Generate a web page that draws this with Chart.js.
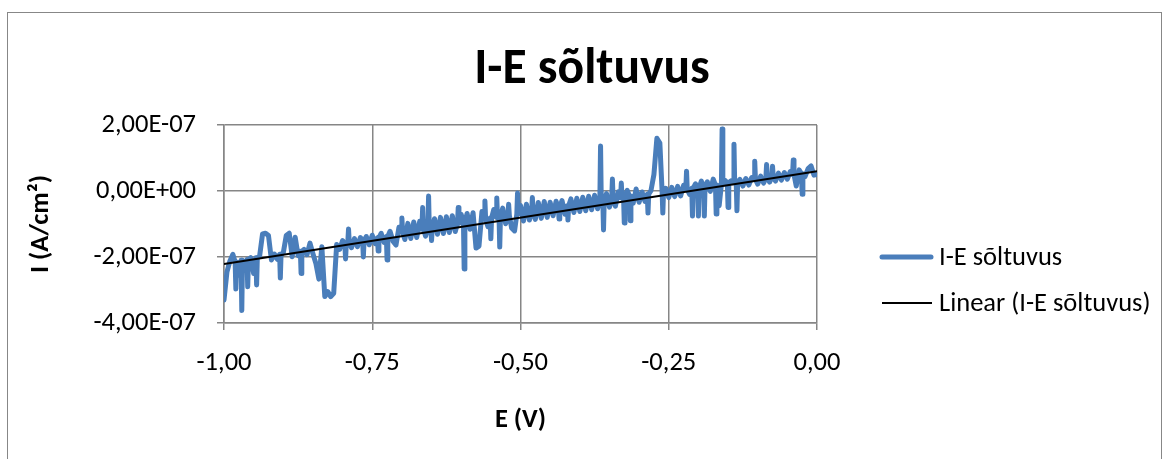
<!DOCTYPE html>
<html><head><meta charset="utf-8">
<script src="https://cdn.jsdelivr.net/npm/chart.js@4.4.1/dist/chart.umd.min.js"></script>
<style>
html,body{margin:0;padding:0;background:#fff;overflow:hidden}
#wrap{position:relative;width:1167px;height:459px}
#frame{position:absolute;left:7px;top:12px;width:1155px;height:480px;border:1.5px solid #878787;box-sizing:border-box}
canvas{position:absolute;left:0;top:0}
</style></head><body>
<div id="wrap"><div id="frame"></div><canvas id="c" width="1167" height="459"></canvas></div>
<script>
const chartTitle = 'I-E sõltuvus';
const seriesLabel = 'I-E sõltuvus';
const trendLabel = 'Linear (I-E sõltuvus)';
const xAxisTitle = 'E (V)';
const yAxisTitle = 'I (A/cm²)';

// potential E (V)
const potentialV = [
-1.000,-0.995,-0.990,-0.985,-0.9812,-0.980,-0.9788,-0.975,-0.9712,-0.970,-0.9688,-0.965,-0.9612,-0.960,-0.9588,-0.955,
-0.950,-0.9462,-0.945,-0.9438,-0.940,-0.935,-0.930,-0.925,-0.920,-0.915,-0.910,-0.9062,-0.905,-0.9038,
-0.900,-0.895,-0.890,-0.885,-0.880,-0.875,-0.8712,-0.870,-0.8688,-0.865,-0.860,-0.855,
-0.850,-0.845,-0.840,-0.835,-0.830,-0.825,-0.820,-0.815,-0.810,-0.805,
-0.800,-0.7962,-0.795,-0.7938,-0.7912,-0.790,-0.7888,-0.785,-0.780,-0.775,-0.770,-0.7662,-0.765,-0.7638,-0.760,-0.755,
-0.750,-0.745,-0.7412,-0.740,-0.7388,-0.735,-0.730,-0.7262,-0.725,-0.7238,-0.720,-0.715,-0.710,-0.705,
-0.7012,-0.700,-0.6988,-0.695,-0.690,-0.685,-0.680,-0.675,-0.670,-0.6662,-0.665,-0.6638,-0.660,-0.6562,-0.655,-0.6538,
-0.6512,-0.650,-0.6488,-0.645,-0.640,-0.635,-0.630,-0.625,-0.620,-0.615,-0.610,-0.6062,-0.605,-0.6038,
-0.600,-0.5962,-0.595,-0.5938,-0.590,-0.585,-0.580,-0.575,-0.570,-0.565,-0.5612,-0.560,-0.5588,-0.555,
-0.5512,-0.550,-0.5488,-0.545,-0.5412,-0.540,-0.5388,-0.5362,-0.535,-0.5338,-0.530,-0.525,-0.5212,-0.520,-0.5188,-0.515,-0.510,-0.5062,-0.505,-0.5038,
-0.500,-0.495,-0.490,-0.485,-0.4812,-0.480,-0.4788,-0.475,-0.470,-0.465,-0.460,-0.455,
-0.450,-0.445,-0.440,-0.4362,-0.435,-0.4338,-0.430,-0.425,-0.4212,-0.420,-0.4188,-0.415,-0.410,-0.405,
-0.400,-0.395,-0.390,-0.385,-0.380,-0.375,-0.370,-0.3662,-0.365,-0.3638,-0.3612,-0.360,-0.3588,-0.355,
-0.350,-0.3462,-0.345,-0.3438,-0.340,-0.335,-0.3312,-0.330,-0.3288,-0.3262,-0.325,-0.3238,-0.320,-0.3162,-0.315,-0.3138,-0.310,-0.305,
-0.300,-0.295,-0.290,-0.2862,-0.285,-0.2838,-0.280,-0.275,-0.270,-0.265,-0.2612,-0.260,-0.2588,-0.255,
-0.250,-0.245,-0.240,-0.235,-0.230,-0.225,-0.2212,-0.220,-0.2188,-0.215,-0.2112,-0.210,-0.2088,-0.205,
-0.2012,-0.200,-0.1988,-0.195,-0.1912,-0.190,-0.1888,-0.185,-0.180,-0.175,-0.1712,-0.170,-0.1688,-0.165,-0.1612,-0.160,-0.1588,-0.155,
-0.1512,-0.150,-0.1488,-0.145,-0.1412,-0.140,-0.1388,-0.1362,-0.135,-0.1338,-0.130,-0.125,-0.120,-0.115,-0.110,-0.1062,-0.105,-0.1038,
-0.100,-0.095,-0.090,-0.0862,-0.085,-0.0838,-0.080,-0.0762,-0.075,-0.0738,-0.070,-0.065,-0.060,-0.055,
-0.050,-0.045,-0.0412,-0.040,-0.0388,-0.035,-0.030,-0.0262,-0.025,-0.0238,-0.020,-0.015,-0.010,-0.005,0.000];

// current I in units of 1e-7 A/cm²
const currentE7 = [
-3.30,-2.45,-2.12,-1.92,-2.15,-2.97,-2.15,-2.55,-2.10,-3.62,-2.10,-2.35,-2.08,-2.90,-2.08,-2.02,
-2.50,-2.02,-2.85,-2.02,-1.98,-1.30,-1.28,-1.35,-2.09,-1.91,-2.07,-1.92,-2.64,-1.92,
-1.87,-1.35,-1.28,-1.99,-1.40,-1.96,-1.83,-2.50,-1.83,-1.77,-1.93,-1.58,
-1.90,-2.20,-2.67,-1.69,-3.20,-3.05,-3.20,-3.10,-1.62,-1.77,
-1.50,-1.62,-2.06,-1.62,-1.55,-1.15,-1.55,-1.72,-1.44,-1.69,-1.41,-1.50,-2.00,-1.50,-1.38,-1.63,
-1.34,-1.60,-1.42,-1.82,-1.42,-1.28,-1.56,-1.38,-2.09,-1.38,-1.22,-1.52,-1.64,-1.10,
-1.25,-0.82,-1.25,-1.47,-0.98,-1.44,-0.94,-1.41,-0.92,-1.15,-0.50,-1.15,-1.37,-1.12,-0.15,-1.12,
-1.10,-1.50,-1.10,-0.84,-1.31,-0.80,-1.29,-0.78,-1.26,-0.75,-1.23,-0.98,-0.50,-0.98,
-0.71,-0.95,-2.36,-0.95,-0.68,-1.16,-0.66,-1.73,-1.67,-0.62,-0.85,-0.30,-0.85,-1.08,
-0.82,-1.45,-0.82,-0.56,-0.80,-0.21,-0.80,-0.78,-1.70,-0.78,-0.52,-0.99,-0.74,-0.40,-0.74,-1.12,-1.21,-0.70,-0.06,-0.70,
-0.44,-0.91,-0.40,-0.88,-0.62,-0.20,-0.62,-0.86,-0.35,-0.83,-0.32,-0.80,
-0.34,-0.75,-0.31,-0.50,-0.85,-0.50,-0.29,-0.70,-0.45,-0.88,-0.45,-0.24,-0.65,-0.22,
-0.62,-0.19,-0.60,-0.16,-0.57,-0.13,-0.54,-0.30,1.36,-0.30,-0.28,-1.18,-0.28,-0.08,
-0.49,-0.25,0.36,-0.25,-0.46,-0.02,-0.20,0.24,-0.20,-0.18,-0.97,-0.18,0.02,-0.15,-0.90,-0.15,-0.37,0.06,
-0.34,-0.03,-0.32,-0.10,-0.67,-0.10,0.01,0.50,1.60,1.45,-0.02,-0.67,-0.02,0.08,
-0.20,0.11,-0.17,0.14,-0.15,0.17,0.05,0.60,0.05,-0.10,0.08,-0.76,0.08,0.22,
0.10,-0.76,0.10,0.30,0.12,-0.76,0.12,0.28,-0.01,0.36,0.18,-0.70,0.18,-0.45,0.20,1.88,0.20,0.32,
0.25,-0.50,0.25,0.31,0.25,1.42,0.25,0.27,-0.60,0.27,0.35,0.15,0.38,0.18,0.41,0.35,0.90,0.35,
0.21,0.45,0.24,0.40,0.80,0.40,0.27,0.42,0.75,0.42,0.30,0.54,0.33,0.56,
0.36,0.59,0.50,0.94,0.50,0.15,0.64,0.52,-0.10,0.52,0.44,0.68,0.76,0.48,0.50];

// linear trendline end points (units 1e-7)
const trendE = [-1.0, 0.0];
const trendI = [-2.21, 0.60];

const xTickValues = [-1, -0.75, -0.5, -0.25, 0];
const xTickLabels = ['-1,00', '-0,75', '-0,50', '-0,25', '0,00'];
const yTickValues = [-4, -2, 0, 2];
const yTickLabels = ['-4,00E-07', '-2,00E-07', '0,00E+00', '2,00E-07'];

const FAMILY = 'Carlito, Calibri, Lato, sans-serif';
const TICK_SIZE = 26.5;
const GRID = '#868686';
const BLUE = '#4A7EBB';

const overlay = {
  id: 'overlay',
  afterDraw(c) {
    const g = c.ctx;
    g.save();
    g.fillStyle = '#000';
    g.textAlign = 'center';
    g.textBaseline = 'alphabetic';
    g.font = 'bold 49.5px ' + FAMILY;
    g.fillText(chartTitle, 592, 83);
    // legend
    g.lineCap = 'round';
    g.strokeStyle = BLUE; g.lineWidth = 5;
    g.beginPath(); g.moveTo(882, 257); g.lineTo(931, 257); g.stroke();
    g.lineCap = 'butt';
    g.strokeStyle = '#000'; g.lineWidth = 2;
    g.beginPath(); g.moveTo(882, 303); g.lineTo(932, 303); g.stroke();
    g.textAlign = 'left'; g.textBaseline = 'middle';
    g.font = TICK_SIZE + 'px ' + FAMILY;
    g.fillText(seriesLabel, 939, 258);
    g.fillText(trendLabel, 939, 304);
    g.restore();
  }
};

new Chart(document.getElementById('c'), {
  type: 'line',
  data: {
    datasets: [
      { label: trendLabel, data: trendE.map((e, i) => ({x: e, y: trendI[i]})),
        borderColor: '#000', borderWidth: 2, pointRadius: 0, order: 0 },
      { label: seriesLabel, data: potentialV.map((e, i) => ({x: e, y: currentE7[i]})),
        borderColor: BLUE, borderWidth: 5, borderCapStyle: 'round', borderJoinStyle: 'round',
        pointRadius: 0, tension: 0, order: 1 }
    ]
  },
  options: {
    responsive: false, animation: false, devicePixelRatio: 1,
    layout: { padding: { left: 20, right: 350, top: 125, bottom: 20 } },
    plugins: { legend: { display: false }, title: { display: false }, tooltip: { enabled: false } },
    scales: {
      x: {
        type: 'linear', min: -1, max: 0,
        afterBuildTicks: s => { s.ticks = xTickValues.map(v => ({value: v})); },
        afterFit: s => { s.height = 459 - 20 - 323; },
        ticks: { callback: v => xTickLabels[xTickValues.indexOf(v)], color: '#000',
                 font: { family: FAMILY, size: TICK_SIZE }, padding: 17, maxRotation: 0, autoSkip: false },
        grid: { color: GRID, lineWidth: 1.5, tickLength: 7 },
        border: { color: GRID, width: 1.5 },
        title: { display: true, text: xAxisTitle, color: '#000',
                 font: { family: FAMILY, size: TICK_SIZE, weight: 'bold' }, padding: { bottom: 3 } }
      },
      y: {
        type: 'linear', min: -4, max: 2,
        afterBuildTicks: s => { s.ticks = yTickValues.map(v => ({value: v})); },
        afterFit: s => { s.width = 224 - 20; },
        ticks: { callback: v => yTickLabels[yTickValues.indexOf(v)], color: '#000',
                 font: { family: FAMILY, size: TICK_SIZE }, padding: 21, autoSkip: false },
        grid: { color: GRID, lineWidth: 1.5, tickLength: 7 },
        border: { color: GRID, width: 1.5 },
        title: { display: true, text: yAxisTitle, color: '#000',
                 font: { family: FAMILY, size: TICK_SIZE, weight: 'bold' }, padding: { top: 5 } }
      }
    }
  },
  plugins: [overlay]
});
</script>
</body></html>
